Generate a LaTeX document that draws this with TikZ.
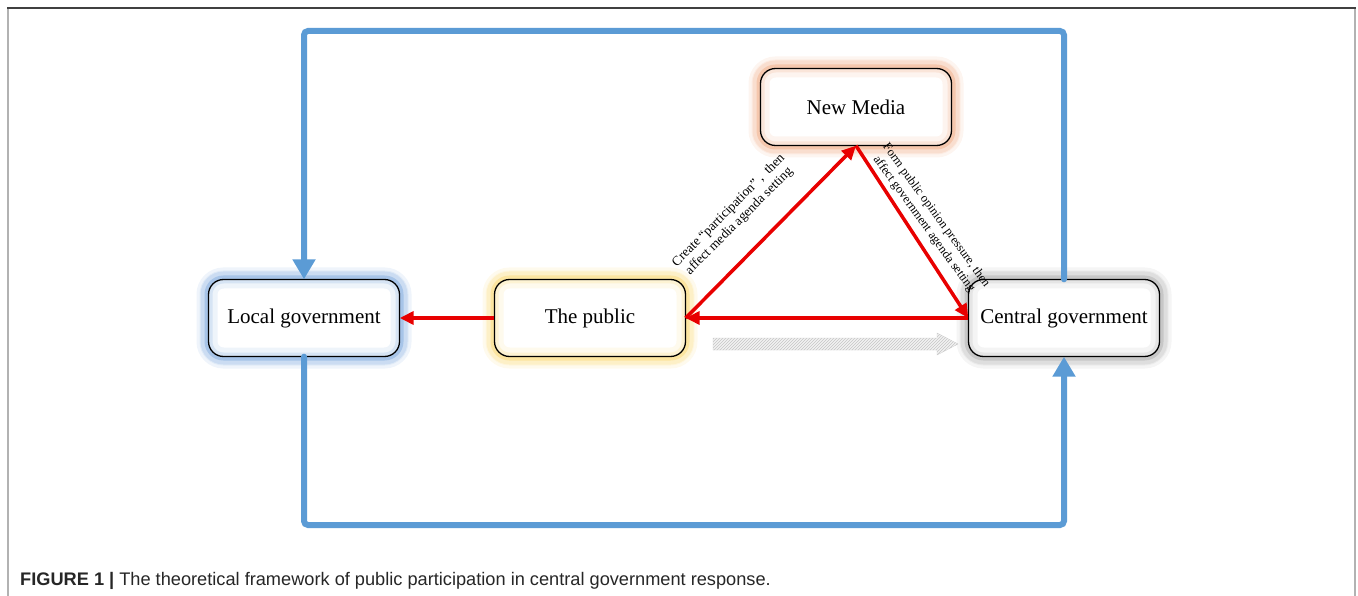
\documentclass[tikz,border=0pt]{standalone}
\usepackage{fontspec}
\setmainfont{Liberation Serif}
\newfontfamily\capfont{Liberation Sans}
\usepackage{tikz}
\usetikzlibrary{arrows.meta,%
	patterns}
\definecolor{loopblue}{RGB}{91,155,213}
\definecolor{flowred}{RGB}{232,0,0}
\definecolor{glowlocal}{RGB}{120,165,220}
\definecolor{glowpublic}{RGB}{250,215,110}
\definecolor{glowmedia}{RGB}{240,170,130}
\definecolor{glowcentral}{RGB}{170,170,170}

\begin{document}
\begin{tikzpicture}[x=1pt,y=-1pt,
	main node/.style={rectangle,rounded corners=15pt,fill=white,minimum width=191pt,minimum height=77pt,font=\fontsize{21}{25}\selectfont,
		preaction={draw=#1,line width=24pt,draw opacity=0.12},
		preaction={draw=#1,line width=16pt,draw opacity=0.2},
		preaction={draw=#1,line width=8pt,draw opacity=0.3},
		postaction={draw=#1,line width=18pt,draw opacity=0.12},
		postaction={draw=#1,line width=8pt,draw opacity=0.2},
		postaction={draw=black,line width=1.3pt}},
	red arrow/.style={flowred,line width=3.5pt,-{Triangle[length=14pt,width=13pt]}},
	blue loop/.style={loopblue,line width=6pt,rounded corners=4pt,line cap=round,-{Triangle[length=20pt,width=22pt]}},
	side label/.style={font=\fontsize{#1}{15}\selectfont,align=center,inner sep=0pt}]
	\useasboundingbox (0,0) rectangle (1358,596);
	% page frame
	\draw[gray!60,line width=1.5pt] (8,596) -- (8,8) (1355,8) -- (1355,596);
	\draw[black!75,line width=1.5pt] (7,8) -- (1356,8);
	
	\node[main node=glowlocal] (local) at (304,318) {Local government};
	\node[main node=glowpublic] (public) at (590,318) {The public};
	\node[main node=glowmedia] (media) at (856,107) {New Media};
	\node[main node=glowcentral] (central) at (1064,318) {Central government};
	
	% feedback loops
	\draw[blue loop] (central.north) -- (central.north |- 0,31) -- (local.north |- 0,31) -- (local.north);
	\draw[blue loop] (local.south) -- (local.south |- 0,525) -- (central.south |- 0,525) -- (central.south);
	
	% triangle
	\draw[red arrow] (public) -- (local);
	\draw[red arrow] (central) -- (public);
	\draw[red arrow] (public.east) -- (media.south);
	\draw[red arrow] (media.south) -- (central.west);
	
	\node[side label=13.3,rotate=45] (create) at (734,216) {Create “participation” ,\ \ then\\affect media agenda setting};
	\node[side label=12.4,rotate=-54] (form) at (930,220) {Form public opinion pressure, then\\affect government agenda setting};
	
	\draw[gray!35,fill=gray!10,postaction={pattern=north east lines,pattern color=gray!45}]
		(713,338) -- (937,338) -- (937,333) -- (958,344) -- (937,355) -- (937,350) -- (713,350) -- cycle;
	
	\node[anchor=base west,inner sep=0pt,text=black!85,font=\capfont\fontsize{18.2}{21}\selectfont] (caption) at (20,585)
		{\textbf{FIGURE 1 |} The theoretical framework of public participation in central government response.};
\end{tikzpicture}
\end{document}
